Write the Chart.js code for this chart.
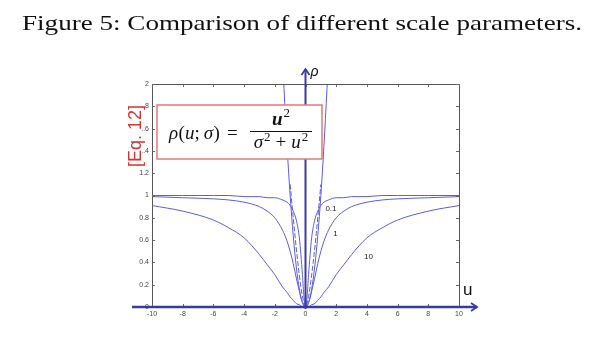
<!DOCTYPE html>
<html><head><meta charset="utf-8">
<script src="https://cdn.jsdelivr.net/npm/chart.js@4"></script>
<style>html,body{margin:0;padding:0;background:#fff;}#c{display:block;}</style>
</head><body>
<canvas id="c" width="603" height="346"></canvas>
<script>
// ---- data ----
const uValues = [-10,-8,-6,-5,-4,-3,-2.5,-2,-1.5,-1.2,-1,-0.8,-0.6,-0.4,-0.3,-0.2,-0.1,0,0.1,0.2,0.3,0.4,0.6,0.8,1,1.2,1.5,2,2.5,3,4,5,6,8,10];
const rhoSigma2_10 = [0.91,0.86,0.78,0.71,0.62,0.47,0.38,0.29,0.18,0.13,0.09,0.06,0.03,0.02,0.01,0.00,0.00,0,0.00,0.00,0.01,0.02,0.03,0.06,0.09,0.13,0.18,0.29,0.38,0.47,0.62,0.71,0.78,0.86,0.91];
const rhoSigma2_1 = [0.99,0.98,0.97,0.96,0.94,0.90,0.86,0.80,0.69,0.59,0.50,0.39,0.26,0.14,0.08,0.04,0.01,0,0.01,0.04,0.08,0.14,0.26,0.39,0.50,0.59,0.69,0.80,0.86,0.90,0.94,0.96,0.97,0.98,0.99];
const rhoSigma2_01 = [1.00,1.00,1.00,1.00,0.99,0.99,0.98,0.98,0.96,0.94,0.91,0.86,0.78,0.62,0.47,0.29,0.09,0,0.09,0.29,0.47,0.62,0.78,0.86,0.91,0.94,0.96,0.98,0.98,0.99,0.99,1.00,1.00,1.00,1.00];
const quadU = [-1.5,-1.4,-1.2,-1,-0.8,-0.6,-0.4,-0.2,0,0.2,0.4,0.6,0.8,1,1.2,1.4,1.5];
const quadRho = [2.25,1.96,1.44,1.00,0.64,0.36,0.16,0.04,0,0.04,0.16,0.36,0.64,1.00,1.44,1.96,2.25];
const dashU = [-1,-0.9,-0.7,-0.5,-0.3,-0.15,0,0.15,0.3,0.5,0.7,0.9,1];
const dashRho = [1.10,0.95,0.66,0.40,0.18,0.06,0,0.06,0.18,0.40,0.66,0.95,1.10];
const curveLabels = ["0.1","1","10"];
const curveLabelU = [1.66,1.95,4.1];
const curveLabelRho = [0.88,0.66,0.45];
const xTickMin = -10, xTickMax = 10, xTickStep = 2;
const yTickMin = 0, yTickMax = 2, yTickStep = 0.2;
const titleText = "Figure 5: Comparison of different scale parameters.";
const eqTag = "[Eq. 12]";

const pts = (xs, ys) => xs.map((x, i) => ({x, y: ys[i]}));
const curveColor = 'rgb(92,92,228)';
const mk = (xs, ys, extra) => Object.assign({
  data: pts(xs, ys), showLine: true, pointRadius: 0, borderColor: curveColor,
  borderWidth: 1, cubicInterpolationMode: 'monotone', fill: false
}, extra || {});

const deco = {
  id: 'deco',
  afterDatasetsDraw(chart) {
    const ctx = chart.ctx, xs = chart.scales.x, ys = chart.scales.y, a = chart.chartArea;
    ctx.save();
    // frame top/right
    ctx.strokeStyle = '#555'; ctx.lineWidth = 1;
    ctx.beginPath();
    ctx.moveTo(a.left, a.top + 0.5); ctx.lineTo(a.right + 0.5, a.top + 0.5); ctx.lineTo(a.right + 0.5, a.bottom);
    ctx.stroke();
    // inward ticks
    ctx.strokeStyle = '#666';
    ctx.beginPath();
    xs.ticks.forEach(t => {
      const px = Math.round(xs.getPixelForValue(t.value)) + 0.5;
      ctx.moveTo(px, a.top); ctx.lineTo(px, a.top + 3);
      ctx.moveTo(px, a.bottom); ctx.lineTo(px, a.bottom - 3);
    });
    ys.ticks.forEach(t => {
      const py = Math.round(ys.getPixelForValue(t.value)) + 0.5;
      ctx.moveTo(a.left, py); ctx.lineTo(a.left + 3, py);
      ctx.moveTo(a.right, py); ctx.lineTo(a.right - 3, py);
    });
    ctx.stroke();
    // curve labels
    ctx.fillStyle = '#222'; ctx.font = '8px "Liberation Sans"';
    ctx.textAlign = 'center'; ctx.textBaseline = 'middle';
    curveLabels.forEach((s, i) => ctx.fillText(s, xs.getPixelForValue(curveLabelU[i]), ys.getPixelForValue(curveLabelRho[i])));
    // axis arrows
    const ax = 'rgb(58,58,165)';
    const x0 = xs.getPixelForValue(0), y0 = ys.getPixelForValue(0);
    ctx.strokeStyle = ax; ctx.lineWidth = 2.4; ctx.lineCap = 'butt';
    ctx.beginPath(); ctx.moveTo(a.left - 20, y0); ctx.lineTo(a.right + 18, y0); ctx.stroke();
    ctx.lineWidth = 1.8;
    ctx.beginPath(); ctx.moveTo(a.right + 12, y0 - 4); ctx.lineTo(a.right + 18, y0); ctx.lineTo(a.right + 12, y0 + 4); ctx.stroke();
    ctx.lineWidth = 2;
    ctx.beginPath(); ctx.moveTo(x0, y0 + 2); ctx.lineTo(x0, a.top - 15); ctx.stroke();
    ctx.lineWidth = 1.8;
    ctx.beginPath(); ctx.moveTo(x0 - 4, a.top - 9); ctx.lineTo(x0, a.top - 15); ctx.lineTo(x0 + 4, a.top - 9); ctx.stroke();
    // axis names
    ctx.fillStyle = '#111'; ctx.textAlign = 'left'; ctx.textBaseline = 'alphabetic';
    ctx.font = 'italic 14px "Liberation Sans"';
    ctx.fillText('\u03C1', x0 + 5, a.top - 8);
    ctx.font = '17px "Liberation Sans"';
    ctx.fillText('u', a.right + 4, 295);
    // formula box
    const bx = 157, by = 105, bw = 165, bh = 54;
    ctx.fillStyle = '#fff'; ctx.fillRect(bx, by, bw, bh);
    ctx.strokeStyle = 'rgb(228,120,120)'; ctx.lineWidth = 1.5;
    ctx.strokeRect(bx, by, bw, bh);
    ctx.fillStyle = '#111';
    const I = 'italic 19px "Liberation Serif"', R = '19px "Liberation Serif"';
    const S = '13px "Liberation Serif"';
    let cx = 169; const base = 139;
    const put = (txt, f, dy, gap) => { ctx.font = f; ctx.fillText(txt, cx, base + (dy || 0)); cx += ctx.measureText(txt).width + (gap || 0); };
    put('\u03C1', I, 0, 0.5); put('(', R); put('u', I); put(';', R, 0, 4); put('\u03C3', I, 0, 0.5); put(')', R, 0, 7); put('=', R);
    // fraction
    const fx0 = 250, fx1 = 312, fy = 131.5;
    ctx.lineWidth = 1; ctx.strokeStyle = '#111';
    ctx.beginPath(); ctx.moveTo(fx0, fy); ctx.lineTo(fx1, fy); ctx.stroke();
    const drawGroup = (parts, baseY) => {
      let w = 0;
      parts.forEach(p => { ctx.font = p[1]; w += ctx.measureText(p[0]).width + (p[3] || 0); });
      let x = (fx0 + fx1) / 2 - w / 2;
      parts.forEach(p => { ctx.font = p[1]; ctx.fillText(p[0], x, baseY + p[2]); x += ctx.measureText(p[0]).width + (p[3] || 0); });
    };
    drawGroup([['u', 'italic bold 19px "Liberation Serif"', 0, 1], ['2', S, -8, 0]], 125);
    drawGroup([['\u03C3', I, 0, 1], ['2', S, -7, 5], ['+', R, 0, 5], ['u', I, 0, 1], ['2', S, -7, 0]], 148);
    ctx.restore();
  },
  afterDraw(chart) {
    const ctx = chart.ctx;
    ctx.save();
    // [Eq. 12]
    ctx.translate(135, 136); ctx.rotate(-Math.PI / 2);
    ctx.font = '18px "Liberation Sans"';
    const w = ctx.measureText(eqTag).width;
    ctx.fillStyle = '#fff'; ctx.fillRect(-w / 2 - 2, -8, w + 4, 15);
    ctx.fillStyle = 'rgb(212,52,52)'; ctx.textAlign = 'center'; ctx.textBaseline = 'middle';
    ctx.fillText(eqTag, 0, 1);
    ctx.restore();
    // title
    ctx.save();
    ctx.font = '22px "Liberation Serif"'; ctx.fillStyle = '#111';
    const tw = ctx.measureText(titleText).width;
    ctx.translate(22, 30); ctx.scale(560 / tw, 1);
    ctx.fillText(titleText, 0, 0);
    ctx.restore();
  }
};

const fmt = v => String(Math.round(v * 10) / 10);

new Chart(document.getElementById('c'), {
  type: 'scatter',
  data: { datasets: [
    mk(uValues, rhoSigma2_10),
    mk(uValues, rhoSigma2_1),
    mk(uValues, rhoSigma2_01),
    mk(dashU, dashRho, {borderDash: [5, 2]}),
    mk(quadU, quadRho)
  ]},
  options: {
    responsive: false, animation: false, devicePixelRatio: 1,
    layout: { padding: { left: 132, right: 144, top: 84, bottom: 27 } },
    plugins: { legend: { display: false }, tooltip: { enabled: false } },
    scales: {
      x: { type: 'linear', min: xTickMin, max: xTickMax,
        ticks: { stepSize: xTickStep, autoSkip: false, maxRotation: 0, padding: 3, color: '#444', callback: fmt, font: { size: 7, family: 'Liberation Sans' } },
        grid: { display: false, drawTicks: false }, border: { display: false },
        afterFit: s => { s.height = 12; } },
      y: { type: 'linear', min: yTickMin, max: yTickMax,
        ticks: { stepSize: yTickStep, autoSkip: false, padding: 3, color: '#444', callback: fmt, font: { size: 7, family: 'Liberation Sans' } },
        grid: { display: false, drawTicks: false }, border: { display: true, color: '#555', width: 1 },
        afterFit: s => { s.width = 20; } }
    }
  },
  plugins: [deco]
});
</script>
</body></html>
